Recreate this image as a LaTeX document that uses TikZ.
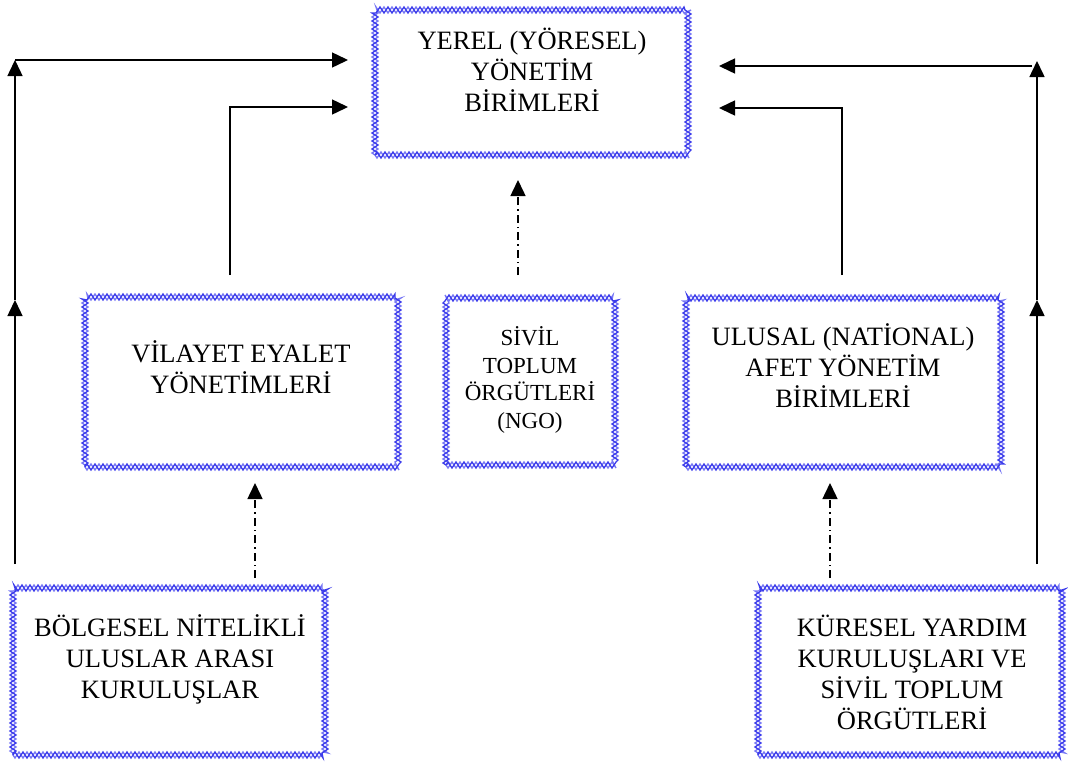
\documentclass[tikz,border=0pt]{standalone}
\usepackage{fontspec}
\setmainfont{Liberation Serif}
\usetikzlibrary{arrows.meta,decorations.pathmorphing}
\definecolor{bbl}{RGB}{60,60,235}
\definecolor{bbl2}{RGB}{120,120,245}
\tikzset{
  braidA/.style={draw=bbl, line width=1.3pt, decorate, decoration={zigzag, segment length=8pt, amplitude=3pt}},
  braidB/.style={draw=bbl2, line width=1.3pt, decorate, decoration={zigzag, segment length=8pt, amplitude=3pt, mirror}},
  bx/.style={inner sep=0pt, outer sep=0pt, preaction={braidB}, postaction={braidA}},
  txt/.style={align=center, inner sep=0pt, anchor=base, font=\fontsize{26.5pt}{31pt}\selectfont},
  txts/.style={align=center, inner sep=0pt, anchor=base, font=\fontsize{23pt}{27.5pt}\selectfont},
  arr/.style={line width=1.5pt, -{Triangle[length=16pt,width=15pt]}},
  dd/.style={line width=1.5pt, dash pattern=on 8pt off 4pt on 1.5pt off 4pt, -{Triangle[length=16pt,width=15pt]}},
}
\begin{document}
\begin{tikzpicture}[x=1pt,y=-1pt]
\fill[white] (0,0) rectangle (1068,761);
\useasboundingbox (0,0) rectangle (1068,761);
% boxes
\node[bx, minimum width=313pt, minimum height=145pt] (top) at (531.5,82.5) {};
\node[bx, minimum width=313pt, minimum height=170pt] (ml) at (241.5,382) {};
\node[bx, minimum width=169pt, minimum height=167pt] (mc) at (530.5,381.5) {};
\node[bx, minimum width=315pt, minimum height=169pt] (mr) at (843.5,382.5) {};
\node[bx, minimum width=312pt, minimum height=167pt] (bl) at (169,671.5) {};
\node[bx, minimum width=304pt, minimum height=167pt] (br) at (910,671.5) {};
% texts (anchored at the baseline of the last line)
\node[txt] (ttop) at (532,111) {YEREL (YÖRESEL)\\YÖNETİM\\BİRİMLERİ};
\node[txt] (tml) at (241,393) {VİLAYET EYALET\\YÖNETİMLERİ};
\node[txts] (tmc) at (530,428) {SİVİL\\TOPLUM\\ÖRGÜTLERİ\\(NGO)};
\node[txt] (tmr) at (843,407) {ULUSAL (NATİONAL)\\AFET YÖNETİM\\BİRİMLERİ};
\node[txt] (tbl) at (170,698) {BÖLGESEL NİTELİKLİ\\ULUSLAR ARASI\\KURULUŞLAR};
\node[txt] (tbr) at (912,729) {KÜRESEL YARDIM\\KURULUŞLARI VE\\SİVİL TOPLUM\\ÖRGÜTLERİ};
% coordinates
\coordinate (lo1) at (15,564);
\coordinate (lo2) at (15,300);
\coordinate (lo3) at (15,60);
\coordinate (lt) at (348,60);
\coordinate (li1) at (230,275);
\coordinate (li2) at (348,107);
\coordinate (ro1) at (1037,564);
\coordinate (ro2) at (1037,300);
\coordinate (ro3) at (1037,61);
\coordinate (rh1) at (1032,66);
\coordinate (rt) at (719,66);
\coordinate (ri1) at (842,275);
\coordinate (ri2) at (719,108);
\coordinate (dl1) at (255,578);
\coordinate (dl2) at (255,483);
\coordinate (dc1) at (518,275);
\coordinate (dc2) at (518,180);
\coordinate (dr1) at (830,578);
\coordinate (dr2) at (830,483);
% connectors
\draw[arr] (lo1) -- (lo2);
\draw[arr] (lo2) -- (lo3);
\draw[arr] (lo3) -- (lt);
\draw[arr] (li1) |- (li2);
\draw[arr] (ro1) -- (ro2);
\draw[arr] (ro2) -- (ro3);
\draw[arr] (rh1) -- (rt);
\draw[arr] (ri1) |- (ri2);
\draw[dd] (dl1) -- (dl2);
\draw[dd] (dc1) -- (dc2);
\draw[dd] (dr1) -- (dr2);
\end{tikzpicture}
\end{document}
